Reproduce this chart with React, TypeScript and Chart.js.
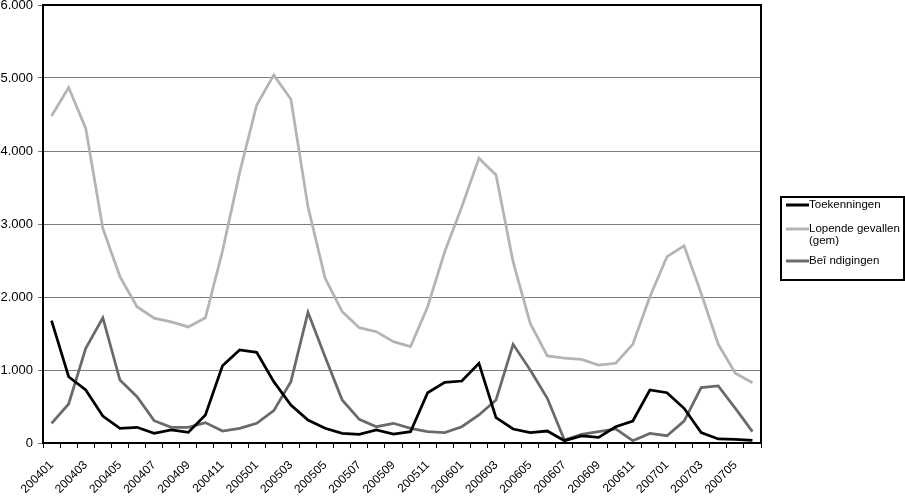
import React, { useEffect, useRef } from 'react';
import { Chart, registerables } from 'chart.js';

Chart.register(...registerables);

const categories = [
  '200401', '200402', '200403', '200404', '200405', '200406', '200407', '200408', '200409', '200410', '200411', '200412',
  '200501', '200502', '200503', '200504', '200505', '200506', '200507', '200508', '200509', '200510', '200511', '200512',
  '200601', '200602', '200603', '200604', '200605', '200606', '200607', '200608', '200609', '200610', '200611', '200612',
  '200701', '200702', '200703', '200704', '200705', '200706',
];

const seriesNames = ['Toekenningen', 'Lopende gevallen\n(gem)', 'Beî ndigingen'];
const seriesColors = ['#000000', '#b4b4b4', '#6a6a6a'];

const toekenningen = [
  1676, 908, 726, 370, 201, 215, 132, 178, 146, 384,
  1059, 1274, 1242, 840, 520, 315, 201, 132, 119, 178,
  123, 155, 689, 831, 849, 1091, 347, 192, 142, 164,
  32, 96, 78, 223, 301, 726, 689, 475, 142, 55,
  50, 37,
];

const lopendeGevallen = [
  4480, 4870, 4310, 2940, 2280, 1867, 1710, 1660, 1590, 1715,
  2630, 3700, 4630, 5040, 4710, 3235, 2260, 1800, 1580, 1525,
  1388, 1320, 1867, 2620, 3237, 3900, 3671, 2480, 1640, 1192,
  1164, 1146, 1068, 1092, 1352, 2004, 2552, 2700, 2050, 1352,
  955, 826,
];

const beeindigingen = [
  270, 534, 1297, 1716, 863, 634, 306, 215, 215, 279,
  164, 201, 270, 443, 840, 1790, 1182, 589, 324, 223,
  270, 201, 155, 142, 223, 384, 589, 1352, 1000, 612,
  41, 119, 155, 192, 32, 132, 100, 301, 758, 781,
  475, 155,
];

const yMin = 0;
const yMax = 6000;
const yStep = 1000;

const fmt = (v: number) => String(Math.round(v)).replace(/\B(?=(\d{3})+(?!\d))/g, '.');

const FONT = "'Liberation Sans', Arial, sans-serif";

const framePlugin = {
  id: 'frame',
  beforeDatasetsDraw(chart: any) {
    const { ctx, chartArea } = chart;
    ctx.save();
    ctx.strokeStyle = '#000';
    ctx.lineWidth = 2;
    ctx.strokeRect(chartArea.left, chartArea.top, chartArea.right - chartArea.left, chartArea.bottom - chartArea.top);
    ctx.restore();
  },
};

const boxLegendPlugin = {
  id: 'boxLegend',
  afterDraw(chart: any) {
    const { ctx, chartArea } = chart;
    const bx = chartArea.right + 20;
    const by = 197;
    const bw = 123;
    const bh = 83;
    ctx.save();
    ctx.fillStyle = '#fff';
    ctx.fillRect(bx, by, bw, bh);
    ctx.strokeStyle = '#000';
    ctx.lineWidth = 2;
    ctx.strokeRect(bx, by, bw, bh);
    ctx.font = `11.5px ${FONT}`;
    ctx.textBaseline = 'middle';
    ctx.textAlign = 'left';
    const itemY = [205, 229, 261];
    chart.data.datasets.forEach((ds: any, i: number) => {
      const y = itemY[i];
      ctx.strokeStyle = ds.borderColor;
      ctx.lineWidth = 3;
      ctx.beginPath();
      ctx.moveTo(bx + 5, y);
      ctx.lineTo(bx + 28, y);
      ctx.stroke();
      ctx.fillStyle = '#000';
      String(ds.label).split('\n').forEach((line: string, j: number) => {
        ctx.fillText(line, bx + 28, y + j * 12);
      });
    });
    ctx.restore();
  },
};

export default function App() {
  const ref = useRef<HTMLCanvasElement | null>(null);

  useEffect(() => {
    if (!ref.current) return;
    Chart.defaults.font.family = FONT;
    const chart = new Chart(ref.current, {
      type: 'line',
      data: {
        labels: categories,
        datasets: [
          { label: seriesNames[0], data: toekenningen, borderColor: seriesColors[0] },
          { label: seriesNames[1], data: lopendeGevallen, borderColor: seriesColors[1] },
          { label: seriesNames[2], data: beeindigingen, borderColor: seriesColors[2] },
        ].map((d) => ({ ...d, borderWidth: 2.75, pointRadius: 0, tension: 0, fill: false, backgroundColor: d.borderColor })),
      },
      options: {
        animation: false,
        responsive: false,
        devicePixelRatio: 1,
        layout: { padding: { left: 0, top: 5, right: 144, bottom: 0 } },
        plugins: { legend: { display: false }, tooltip: { enabled: false } },
        scales: {
          x: {
            type: 'category',
            offset: true,
            grid: { display: true, offset: true, drawOnChartArea: false, drawTicks: true, tickLength: 5, color: '#000', lineWidth: 1 },
            border: { display: false },
            ticks: {
              autoSkip: false,
              maxRotation: 45,
              minRotation: 45,
              padding: 10,
              color: '#000',
              font: { family: FONT, size: 12 },
              callback: (_v: any, i: number) => (i % 2 === 0 ? categories[i] : ''),
            },
            afterCalculateLabelRotation: (scale: any) => {
              scale.labelRotation = 45;
            },
            afterFit: (scale: any) => {
              scale.height = 53;
              scale.paddingLeft = 0;
              scale.paddingRight = 0;
            },
          },
          y: {
            min: yMin,
            max: yMax,
            grid: { color: '#7a7a7a', lineWidth: 1, tickLength: 5, drawTicks: true },
            border: { display: false },
            ticks: {
              stepSize: yStep,
              padding: 5,
              color: '#000',
              font: { family: FONT, size: 13 },
              callback: (v: any) => fmt(Number(v)),
            },
            afterFit: (scale: any) => {
              scale.width = 43;
              scale.paddingTop = 0;
              scale.paddingBottom = 0;
            },
          },
        },
      },
      plugins: [framePlugin, boxLegendPlugin],
    } as any);
    return () => chart.destroy();
  }, []);

  return (
    <div style={{ position: 'fixed', left: 0, top: 0, width: 905, height: 496, background: '#fff' }}>
      <canvas ref={ref} width={905} height={496} style={{ display: 'block', width: 905, height: 496 }} />
    </div>
  );
}
